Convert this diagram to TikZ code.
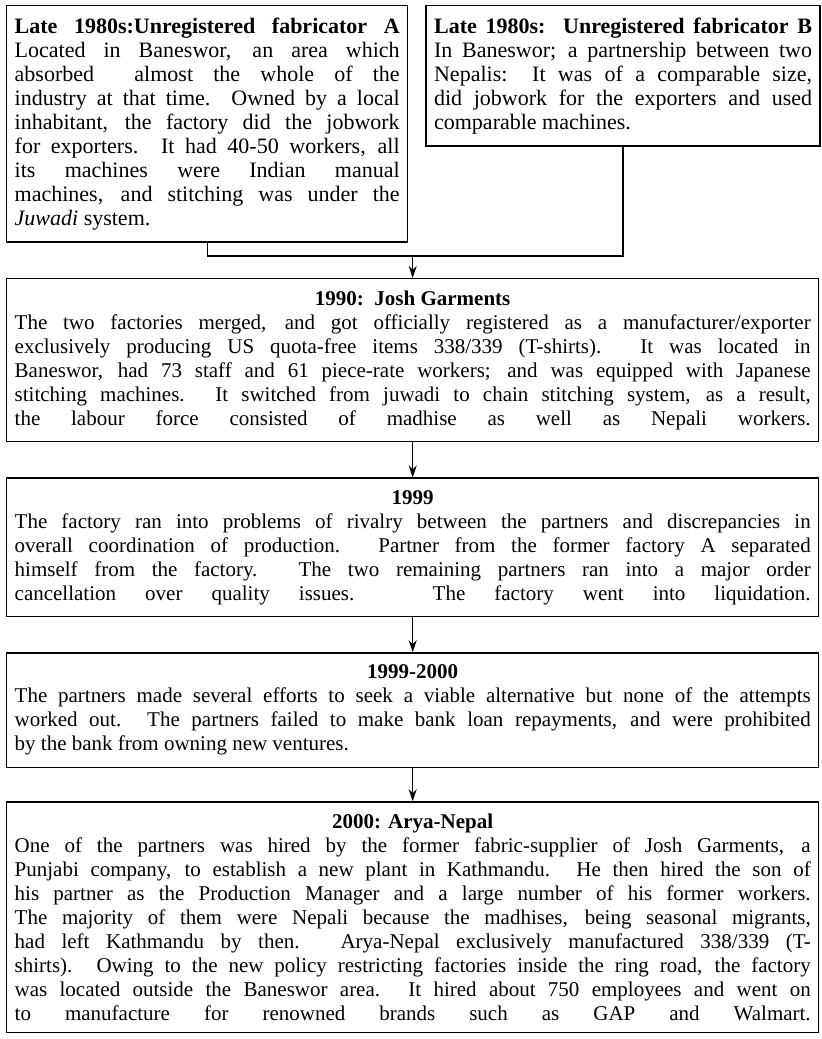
\documentclass[tikz,border=0pt]{standalone}
\usepackage{fontspec}
\setmainfont{Liberation Serif}
\usetikzlibrary{positioning,arrows.meta}
\tikzset{
  stage/.style={draw, line width=0.7pt, align=justify, inner xsep=4pt, inner ysep=6pt, font=\fontsize{10.5}{12}\selectfont},
  narrow/.style={stage, font=\fontsize{11}{12}\selectfont},
  wide/.style={stage, text width=398pt},
  flush/.style={execute at begin node={\setlength{\parfillskip}{0pt}\relax}},
  flow/.style={-{Stealth[length=6pt,width=4pt]}, line width=0.7pt}
}
\newcommand{\stagehead}[1]{{\centering\bfseries #1\par}}
\begin{document}
\begin{tikzpicture}
  \useasboundingbox (0,0) rectangle (410.5pt,-519.5pt);
  \node[narrow, text width=192.5pt, anchor=north west] (fabA) at (3pt,-2.5pt) {\textbf{Late 1980s:Unregistered fabricator A}\linebreak
    Located in Baneswor, an area which\linebreak
    absorbed\ \ almost the whole of the\linebreak
    industry at that time.  Owned by a local\linebreak
    inhabitant, the factory did the jobwork\linebreak
    for exporters.  It had 40-50 workers, all\linebreak
    its machines were Indian manual\linebreak
    machines, and stitching was under the\linebreak
    \textit{Juwadi} system.};
  \node[narrow, text width=189pt, right=8.5pt of fabA.north east, anchor=north west] (fabB) {\textbf{Late 1980s:\ \ Unregistered fabricator B}\linebreak
    In Baneswor; a partnership between two\linebreak
    Nepalis:\ \ It was of a comparable size,\linebreak
    did jobwork for the exporters and used\linebreak
    comparable machines.};
  \node[wide, flush, anchor=north west] (josh) at (3pt,-139pt) {\stagehead{1990:\ \ Josh Garments}
    The two factories merged, and got officially registered as a manufacturer/exporter\linebreak
    exclusively producing US quota-free items 338/339 (T-shirts).  It was located in\linebreak
    Baneswor, had 73 staff and 61 piece-rate workers; and was equipped with Japanese\linebreak
    stitching machines.  It switched from juwadi to chain stitching system, as a result,\linebreak
    the labour force consisted of madhise as well as Nepali workers.};
  \node[wide, flush, below=17.5pt of josh] (crisis) {\stagehead{1999}
    The factory ran into problems of rivalry between the partners and discrepancies in\linebreak
    overall coordination of production.  Partner from the former factory A separated\linebreak
    himself from the factory.  The two remaining partners ran into a major order\linebreak
    cancellation over quality issues.  The factory went into liquidation.};
  \node[wide, below=17.5pt of crisis] (search) {\stagehead{1999-2000}
    The partners made several efforts to seek a viable alternative but none of the attempts\linebreak
    worked out.  The partners failed to make bank loan repayments, and were prohibited\linebreak
    by the bank from owning new ventures.};
  \node[wide, flush, below=16.5pt of search] (arya) {\stagehead{2000: Arya-Nepal}
    One of the partners was hired by the former fabric-supplier of Josh Garments, a\linebreak
    Punjabi company, to establish a new plant in Kathmandu.  He then hired the son of\linebreak
    his partner as the Production Manager and a large number of his former workers.\linebreak
    The majority of them were Nepali because the madhises, being seasonal migrants,\linebreak
    had left Kathmandu by then.  Arya-Nepal exclusively manufactured 338/339 (T-\linebreak
    shirts).  Owing to the new policy restricting factories inside the ring road, the factory\linebreak
    was located outside the Baneswor area.  It hired about 750 employees and went on\linebreak
    to manufacture for renowned brands such as GAP and Walmart.};
  \coordinate (merge) at (josh.north |- 0,-128pt);
  \draw[line width=0.7pt] (fabA.south) |- (merge) -| (fabB.south);
  \draw[flow] (merge) -- (josh.north);
  \draw[flow] (josh) -- (crisis);
  \draw[flow] (crisis) -- (search);
  \draw[flow] (search) -- (arya);
\end{tikzpicture}
\end{document}
